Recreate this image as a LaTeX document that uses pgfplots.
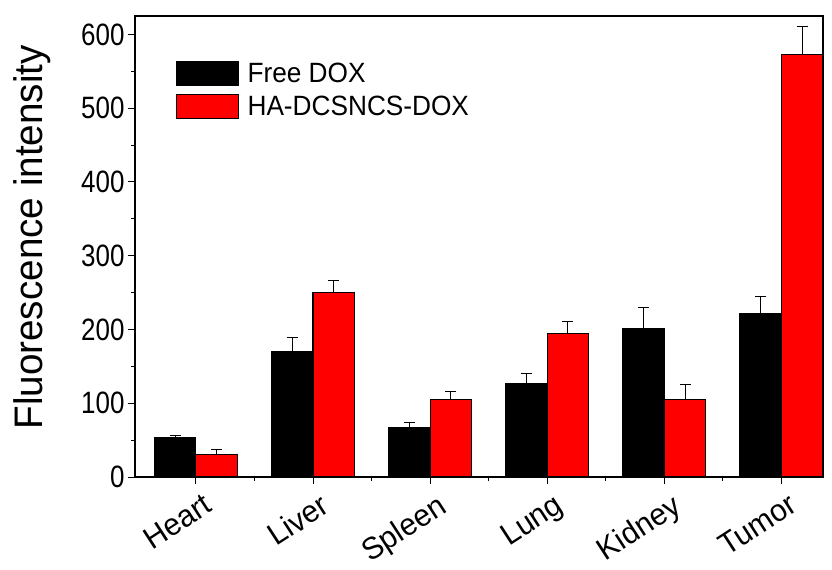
\documentclass[border=0pt]{standalone}
\usepackage{fontspec}
\setmainfont{Liberation Sans}[FakeStretch=0.9]
\newfontfamily\tickfont{Liberation Sans}[FakeStretch=0.84]
\newfontfamily\labfont{Liberation Sans}[FakeStretch=0.97]
\newfontfamily\legfont{Liberation Sans}[FakeStretch=0.94]
\usepackage{pgfplots}
\pgfplotsset{compat=1.18}
\pgfplotstableread{
x y e
0 53 3
1 170 19
2 67 7
3 127 13
4 201 29
5 222 23
}\freedox
\pgfplotstableread{
x y e
0 31 6
1 250 17
2 105 11
3 195 16
4 105 21
5 573 38
}\hadox
\begin{document}
\begin{tikzpicture}
\begin{axis}[
  scale only axis, width=688bp, height=461bp,
  ymin=0, ymax=625, xmin=-0.52, xmax=5.355,
  ybar=0pt, bar width=0.354,
  axis line style={line width=1.2bp},
  tick pos=left, tick align=outside,
  major tick length=7bp, minor tick length=4bp,
  every tick/.style={black, line width=1bp},
  ytick={0,100,...,600}, minor ytick={50,150,...,550},
  xtick={0,...,5}, xticklabels={Heart,Liver,Spleen,Lung,Kidney,Tumor},
  minor xtick={0.5,1.5,...,4.5},
  /pgf/number format/assume math mode=true,
  yticklabel style={font=\tickfont\fontsize{31}{33}\selectfont, xshift=0bp},
  xticklabel style={font=\labfont\fontsize{31}{33}\selectfont, rotate=33, anchor=north east, xshift=4bp, yshift=-7bp},
  ylabel={Fluorescence intensity},
  ylabel style={font=\labfont\fontsize{40}{42}\selectfont, at={(axis description cs:-0.117,0.52)}, anchor=south},
  legend style={draw=none, fill=none, at={(0.06,0.902)}, anchor=north west, font=\legfont\fontsize{28}{30}\selectfont, row sep=8bp, inner sep=0pt},
  legend cell align=left,
  legend image code/.code={\draw[#1, line width=1bp] (0bp,-12bp) rectangle (62bp,12bp); \path (68bp,0bp);},
  error bars/y dir=plus, error bars/y explicit,
  error bars/error bar style={black, line width=0.9bp},
  error bars/error mark options={rotate=90, mark size=5.5bp, line width=0.9bp, black},
]
\addplot[fill=black, draw=black, line width=1.2bp] table[x=x, y=y, y error=e] {\freedox};
\addplot[fill=red, draw=black, line width=1.2bp] table[x=x, y=y, y error=e] {\hadox};
\legend{Free DOX, HA-DCSNCS-DOX}
\end{axis}
\pgfresetboundingbox
\path ([shift={(-135bp,-93bp)}]current axis.south west) rectangle ([shift={(9bp,16bp)}]current axis.north east);
\end{tikzpicture}
\end{document}
